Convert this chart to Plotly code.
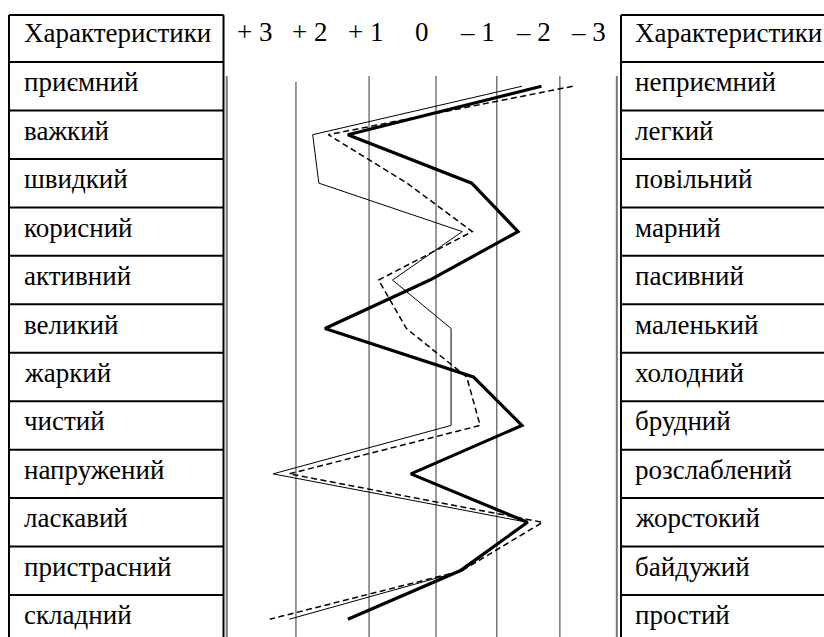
import plotly.graph_objects as go

# ---- data ----
left_labels = ["приємний", "важкий", "швидкий", "корисний", "активний", "великий",
               "жаркий", "чистий", "напружений", "ласкавий", "пристрасний", "складний"]
right_labels = ["неприємний", "легкий", "повільний", "марний", "пасивний", "маленький",
                "холодний", "брудний", "розслаблений", "жорстокий", "байдужий", "простий"]
header_text = "Характеристики"
scale_values = [3, 2, 1, 0, -1, -2, -3]
scale_labels = ["+ 3", "+ 2", "+ 1", "0", "– 1", "– 2", "– 3"]

profile_thick = [-2.15, 1.32, -0.90, -1.73, -0.15, 1.73, -0.93, -1.80, 0.19, -1.90, -0.69, 1.32]
profile_thin = [-1.80, 1.95, 1.84, -0.73, 0.52, -0.53, -0.53, -0.53, 2.66, -1.90, -0.74, 2.37]
profile_dashed = [-2.71, 1.67, 0.26, -0.91, 0.77, 0.27, -0.81, -1.05, 2.37, -2.17, -0.72, 2.72]

# ---- layout constants ----
W, H = 824, 637
FONT = "Liberation Serif"
rows = list(range(1, len(left_labels) + 1))
grid_vals = [2.25, 0.94, -0.26, -1.35, -2.48]
inner_border_vals = [3.49, -3.50]

fig = go.Figure()

fig.add_trace(go.Scatter(x=profile_thin, y=rows, mode="lines",
                         line=dict(color="black", width=1), showlegend=False, hoverinfo="skip"))
fig.add_trace(go.Scatter(x=profile_dashed, y=rows, mode="lines",
                         line=dict(color="black", width=1.5, dash="6px,3.5px"), showlegend=False, hoverinfo="skip"))
fig.add_trace(go.Scatter(x=profile_thick, y=rows, mode="lines",
                         line=dict(color="black", width=3.2), showlegend=False, hoverinfo="skip"))

shapes = []
for i, gv in enumerate(grid_vals):
    shapes.append(dict(type="line", xref="x", yref="y", x0=gv, x1=gv,
                       y0=0.91 if i == 0 else 0.79, y1=12.4,
                       line=dict(color="#333", width=1), layer="below"))
for gv in inner_border_vals:
    shapes.append(dict(type="line", xref="x", yref="y", x0=gv, x1=gv, y0=0.79, y1=12.4,
                       line=dict(color="#777", width=2), layer="below"))

top_k = -0.47
bottom_k = 12.4
lx0, lx1 = 9 / W, 223.5 / W
rx0, rx1 = 621 / W, 1.01
for (x0, x1) in [(lx0, lx1), (rx0, rx1)]:
    shapes.append(dict(type="line", xref="paper", yref="y", x0=x0, x1=x0, y0=top_k, y1=bottom_k,
                       line=dict(color="black", width=2)))
    if x1 < 1:
        shapes.append(dict(type="line", xref="paper", yref="y", x0=x1, x1=x1, y0=top_k, y1=bottom_k,
                           line=dict(color="black", width=2)))
    for b in [top_k] + [r - 0.5 for r in rows]:
        shapes.append(dict(type="line", xref="paper", yref="y", x0=x0, x1=x1, y0=b, y1=b,
                           line=dict(color="black", width=2)))

annotations = []
fs = 27
for xpx in (22, 633):
    annotations.append(dict(text=header_text, xref="paper", yref="y", x=xpx / W, y=0,
                            xanchor="left", yanchor="middle", showarrow=False, yshift=5,
                            font=dict(family=FONT, size=fs, color="black")))
for r, (ll, rl) in enumerate(zip(left_labels, right_labels), start=1):
    annotations.append(dict(text=ll, xref="paper", yref="y", x=22 / W, y=r,
                            xanchor="left", yanchor="middle", showarrow=False, yshift=4,
                            font=dict(family=FONT, size=fs, color="black")))
    annotations.append(dict(text=rl, xref="paper", yref="y", x=633 / W, y=r,
                            xanchor="left", yanchor="middle", showarrow=False, yshift=4,
                            font=dict(family=FONT, size=fs, color="black")))
for sv, sl in zip(scale_values, scale_labels):
    annotations.append(dict(text=sl, xref="x", yref="y", x=sv, y=0,
                            xanchor="center", yanchor="middle", showarrow=False, yshift=6,
                            font=dict(family=FONT, size=fs, color="black")))

fig.update_layout(
    width=W, height=H,
    margin=dict(l=0, r=0, t=0, b=0),
    paper_bgcolor="white", plot_bgcolor="white",
    font=dict(family=FONT),
    xaxis=dict(range=[7.554, -7.213], visible=False, fixedrange=True),
    yaxis=dict(range=[12.367, -0.780], visible=False, fixedrange=True),
    shapes=shapes, annotations=annotations,
)

fig.write_html("out.html", config={"displayModeBar": False},
               post_script="document.body.style.margin='0px';document.body.style.overflow='hidden';")
